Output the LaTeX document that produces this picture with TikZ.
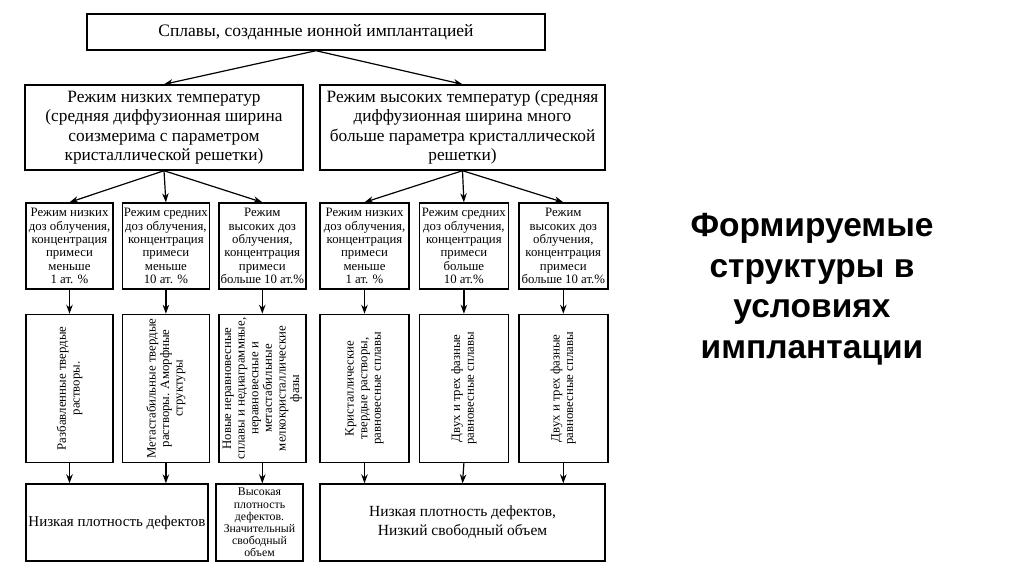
\documentclass[tikz,border=0pt]{standalone}
\usepackage{fontspec}
\setmainfont{Liberation Serif}
\newfontfamily\titlefont{Liberation Sans}
\usetikzlibrary{positioning, arrows.meta}

\tikzset{
  block/.style={draw, line width=1.4pt, align=center, inner sep=1pt},
  dosebox/.style={block, minimum height=86pt, font=\fontsize{12.8}{13.4}\selectfont},
  phasebox/.style={block, minimum height=148pt},
  phasetext/.style={rotate=90, align=center, font=\fontsize{12.8}{13.6}\selectfont},
  link/.style={-{Stealth[length=9pt,width=6.5pt]}, line width=1.2pt},
}

\begin{document}
\begin{tikzpicture}[x=1pt, y=-1pt]
        \useasboundingbox[fill=white] (0,0) rectangle (1024,574);

        % top level
        \node[block, minimum width=458pt, minimum height=36pt, font=\fontsize{17.5}{19}\selectfont] (alloys) at (316,32) {Сплавы, созданные ионной имплантацией};

        \node[block, minimum width=278pt, minimum height=85pt, font=\fontsize{17.3}{19.5}\selectfont] (low_temp) at (164,127.5) {Режим низких температур\\(средняя диффузионная ширина\\соизмерима с параметром\\кристаллической решетки)};
        \node[block, minimum width=285pt, minimum height=85pt, font=\fontsize{17.3}{19.5}\selectfont] (high_temp) at (462.5,127.5) {Режим высоких температур (средняя\\диффузионная ширина много\\больше параметра кристаллической\\решетки)};

        % doses
        \node[dosebox, minimum width=87pt] (l_low) at (69.5,246) {Режим низких\\доз облучения,\\концентрация\\примеси\\меньше\\1 ат. \%};
        \node[dosebox, minimum width=87pt, right=8pt of l_low] (l_mid) {Режим средних\\доз облучения,\\концентрация\\примеси\\меньше\\10 ат. \%};
        \node[dosebox, minimum width=87pt, right=8pt of l_mid] (l_high) {Режим\\высоких доз\\облучения,\\концентрация\\примеси\\больше 10 ат.\%};

        \node[dosebox, minimum width=89pt] (r_low) at (364.5,246) {Режим низких\\доз облучения,\\концентрация\\примеси\\меньше\\1 ат. \%};
        \node[dosebox, minimum width=89pt, right=9pt of r_low] (r_mid) {Режим средних\\доз облучения,\\концентрация\\примеси\\больше\\10 ат.\%};
        \node[dosebox, minimum width=89pt, right=9pt of r_mid] (r_high) {Режим\\высоких доз\\облучения,\\концентрация\\примеси\\больше 10 ат.\%};

        % structures
        \node[phasebox, minimum width=87pt, below=24pt of l_low] (l_low_ph) {};
        \node[phasebox, minimum width=87pt, below=24pt of l_mid] (l_mid_ph) {};
        \node[phasebox, minimum width=87pt, below=24pt of l_high] (l_high_ph) {};
        \node[phasebox, minimum width=89pt, below=24pt of r_low] (r_low_ph) {};
        \node[phasebox, minimum width=89pt, below=24pt of r_mid] (r_mid_ph) {};
        \node[phasebox, minimum width=89pt, below=24pt of r_high] (r_high_ph) {};

        \node[phasetext] at (l_low_ph) {Разбавленные твердые\\растворы.};
        \node[phasetext] at (l_mid_ph) {Метастабильные твердые\\растворы. Аморфные\\структуры};
        \node[phasetext] at (l_high_ph) {Новые неравновесные\\сплавы и недиаграммные,\\неравновесные и\\метастабильные\\мелкокристаллические\\фазы};
        \node[phasetext] at (r_low_ph) {Кристаллические\\твердые растворы,\\равновесные сплавы};
        \node[phasetext] at (r_mid_ph) {Двух и трех фазные\\равновесные сплавы};
        \node[phasetext] at (r_high_ph) {Двух и трех фазные\\равновесные сплавы};

        % defects
        \node[block, minimum width=182pt, minimum height=77pt, font=\fontsize{15}{18}\selectfont] (low_def) at (117,522.5) {Низкая плотность дефектов};
        \node[block, minimum width=87pt, minimum height=77pt, font=\fontsize{11.8}{12.2}\selectfont] (high_def) at (259.5,522.5) {Высокая\\плотность\\дефектов.\\Значительный\\свободный\\объем};
        \node[block, minimum width=285pt, minimum height=77pt, font=\fontsize{15.5}{19}\selectfont] (low_def_vol) at (462.5,522.5) {Низкая плотность дефектов,\\Низкий свободный объем};

        \node[align=center, font=\titlefont\bfseries\fontsize{33.5}{40.5}\selectfont] (caption) at (812,289) {Формируемые\\структуры в\\условиях\\имплантации};

        \draw[link] (alloys.south) -- (low_temp.north);
        \draw[link] (alloys.south) -- (high_temp.north);

        \foreach \d in {l_low, l_mid, l_high}
            \draw[link] (low_temp.south) -- (\d.north);
        \foreach \d in {r_low, r_mid, r_high}
            \draw[link] (high_temp.south) -- (\d.north);

        \foreach \d in {l_low, l_mid, l_high, r_low, r_mid, r_high}
            \draw[link] (\d.south) -- (\d_ph.north);

        \draw[link] (l_low_ph.south) -- (l_low_ph.south |- low_def.north);
        \draw[link] (l_mid_ph.south) -- (l_mid_ph.south |- low_def.north);
        \draw[link] (l_high_ph.south) -- (l_high_ph.south |- high_def.north);
        \draw[link] (r_low_ph.south) -- (r_low_ph.south |- low_def_vol.north);
        \draw[link] (r_mid_ph.south) -- (low_def_vol.north);
        \draw[link] (r_high_ph.south) -- (r_high_ph.south |- low_def_vol.north);
    \end{tikzpicture}
\end{document}
